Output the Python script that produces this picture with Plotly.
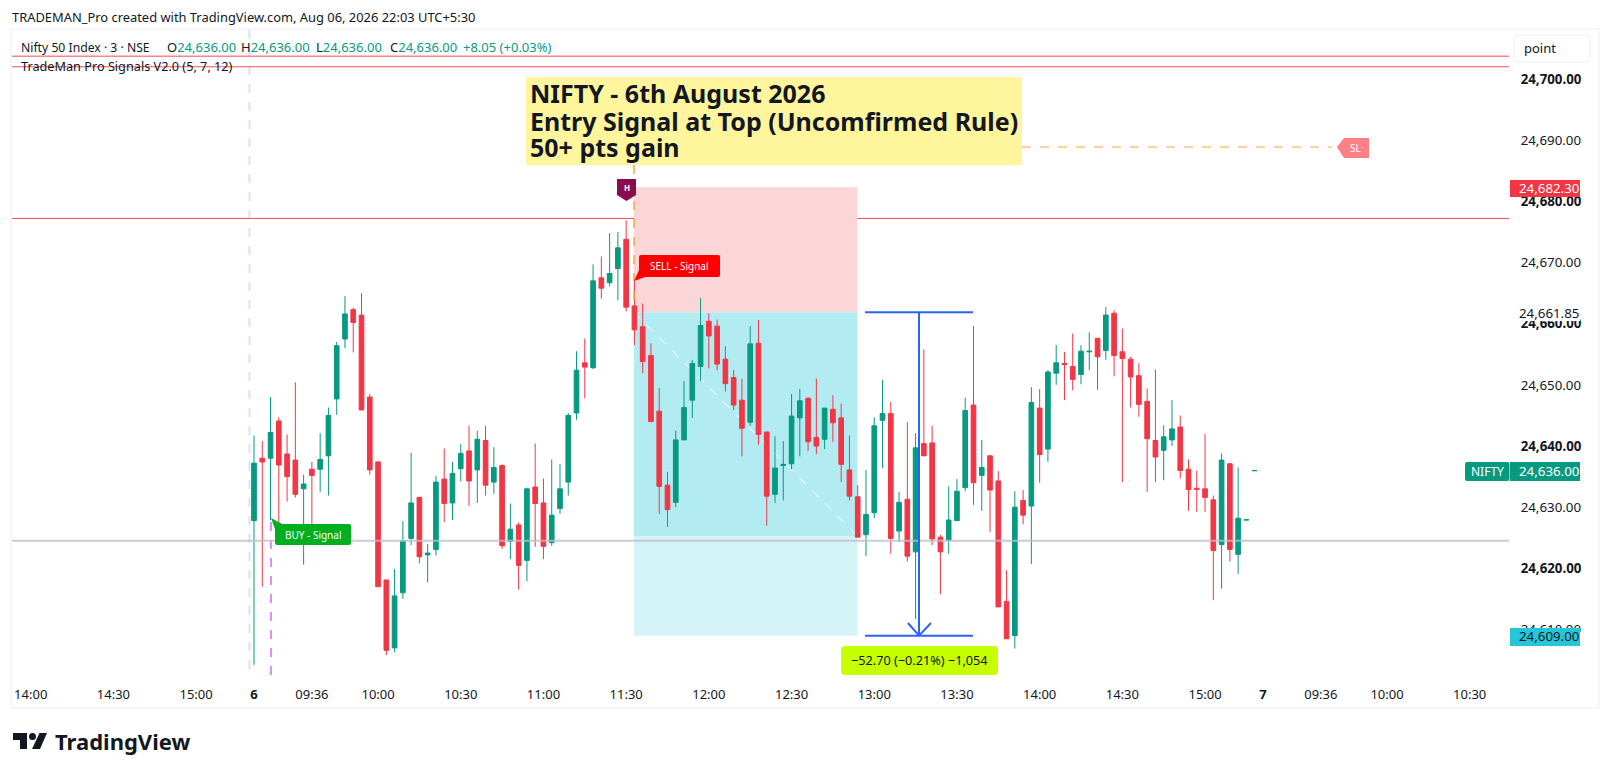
#!/usr/bin/env python3
"""NIFTY 3 minute chart with the short position drawn on top, TradingView style."""

import plotly.graph_objects as go

# --- Data ---

OPEN = [
    24627.8, 24638.0, 24638.0, 24644.1, 24638.7, 24637.7, 24633.0, 24636.2, 24636.2, 24638.4,
    24647.7, 24657.5, 24662.3, 24661.4, 24648.0, 24637.4, 24618.1, 24607.0, 24616.0, 24624.9,
    24631.6, 24622.2, 24623.1, 24634.6, 24630.7, 24636.3, 24639.2, 24636.1, 24640.9, 24634.1,
    24636.8, 24624.4, 24627.1, 24621.3, 24633.3, 24630.7, 24624.2, 24629.8, 24634.1, 24645.4,
    24653.6, 24652.8, 24667.5, 24666.7, 24669.0, 24673.8, 24662.9, 24659.5, 24654.8, 24645.7,
    24633.6, 24630.8, 24641.0, 24647.5, 24653.0, 24660.4, 24659.6, 24654.2, 24651.2, 24647.5,
    24643.9, 24656.8, 24642.3, 24632.1, 24636.8, 24637.1, 24644.6, 24647.8, 24641.4, 24641.1,
    24646.0, 24644.6, 24636.1, 24631.7, 24625.5, 24629.1, 24644.2, 24645.3, 24626.1, 24631.3,
    24622.7, 24640.4, 24640.5, 24625.1, 24624.6, 24627.8, 24633.2, 24646.7, 24635.2, 24638.4,
    24634.3, 24614.6, 24609.0, 24631.1, 24630.2, 24646.2, 24639.5, 24651.9, 24653.5, 24653.0,
    24651.7, 24655.4, 24657.6, 24655.6, 24661.7, 24655.4, 24654.2, 24651.5, 24647.3, 24640.9,
    24639.3, 24641.0, 24643.1, 24636.2, 24633.1, 24633.0, 24631.2, 24623.9, 24637.1, 24622.3,
    24627.9, 24635.95,
]
HIGH = [
    24641.7, 24640.8, 24648.0, 24644.7, 24641.9, 24650.4, 24635.3, 24637.4, 24642.1, 24646.3,
    24657.0, 24664.5, 24662.6, 24665.0, 24648.5, 24637.4, 24618.1, 24619.9, 24627.7, 24638.9,
    24631.6, 24624.0, 24635.1, 24639.6, 24637.4, 24640.3, 24643.3, 24642.5, 24643.3, 24639.8,
    24637.0, 24630.6, 24627.5, 24633.2, 24640.4, 24634.7, 24637.8, 24637.0, 24645.4, 24655.5,
    24657.6, 24669.7, 24671.0, 24674.8, 24675.0, 24676.9, 24666.9, 24663.3, 24656.8, 24649.5,
    24635.8, 24642.5, 24650.6, 24654.1, 24664.2, 24661.7, 24660.7, 24656.3, 24652.4, 24651.0,
    24659.6, 24660.6, 24642.3, 24641.6, 24640.8, 24648.5, 24649.3, 24648.0, 24651.0, 24646.2,
    24648.3, 24646.9, 24641.7, 24633.6, 24636.1, 24644.7, 24650.8, 24647.2, 24632.5, 24643.9,
    24642.1, 24655.8, 24643.3, 24625.5, 24633.4, 24634.6, 24647.9, 24659.6, 24641.0, 24638.4,
    24635.9, 24619.7, 24632.6, 24632.8, 24649.6, 24649.3, 24652.4, 24656.5, 24655.4, 24658.4,
    24656.5, 24658.6, 24657.6, 24662.7, 24662.2, 24659.2, 24654.6, 24653.5, 24649.4, 24652.5,
    24643.4, 24647.5, 24645.0, 24637.8, 24636.0, 24642.0, 24631.9, 24638.8, 24637.2, 24636.5,
    24627.95, 24636.0,
]
LOW = [
    24604.2, 24617.0, 24627.9, 24627.1, 24630.9, 24631.6, 24620.6, 24627.1, 24632.5, 24631.9,
    24645.1, 24656.0, 24655.3, 24645.9, 24635.3, 24617.0, 24605.8, 24606.3, 24615.0, 24623.8,
    24620.8, 24617.7, 24622.1, 24627.6, 24627.9, 24634.2, 24630.2, 24630.7, 24631.9, 24632.2,
    24623.2, 24621.5, 24616.5, 24617.9, 24623.5, 24621.5, 24623.7, 24628.9, 24631.9, 24644.3,
    24647.8, 24652.6, 24664.1, 24666.1, 24663.8, 24662.0, 24656.5, 24651.9, 24643.9, 24628.9,
    24626.8, 24630.0, 24641.0, 24644.6, 24650.6, 24652.7, 24652.4, 24648.9, 24645.9, 24638.3,
    24643.3, 24640.2, 24627.0, 24630.7, 24631.1, 24636.2, 24638.3, 24639.2, 24638.7, 24639.5,
    24640.7, 24634.1, 24631.1, 24625.1, 24622.0, 24628.2, 24636.4, 24622.4, 24624.3, 24621.1,
    24611.7, 24638.4, 24623.8, 24615.8, 24622.4, 24627.8, 24632.6, 24630.4, 24629.4, 24625.9,
    24613.7, 24608.5, 24606.9, 24627.2, 24620.7, 24634.0, 24637.4, 24650.0, 24647.5, 24649.1,
    24650.1, 24652.4, 24649.2, 24654.1, 24651.4, 24634.1, 24646.3, 24644.8, 24632.5, 24634.1,
    24634.4, 24640.0, 24634.7, 24629.4, 24629.2, 24629.2, 24614.8, 24616.7, 24621.1, 24619.1,
    24627.9, 24635.95,
]
CLOSE = [
    24637.2, 24637.4, 24642.2, 24636.9, 24635.0, 24632.1, 24633.8, 24635.2, 24637.8, 24645.0,
    24656.4, 24661.6, 24660.2, 24645.9, 24636.1, 24617.0, 24606.6, 24615.5, 24624.5, 24630.7,
    24621.9, 24622.5, 24634.1, 24630.6, 24635.5, 24638.8, 24634.3, 24641.1, 24633.6, 24636.5,
    24623.7, 24626.4, 24620.5, 24633.0, 24630.6, 24623.6, 24628.7, 24633.0, 24645.0, 24652.4,
    24652.9, 24667.0, 24665.8, 24668.2, 24672.4, 24662.7, 24659.0, 24653.8, 24644.0, 24633.4,
    24629.6, 24641.0, 24646.3, 24653.5, 24659.7, 24658.0, 24653.4, 24650.2, 24646.7, 24642.9,
    24656.7, 24641.9, 24631.8, 24636.4, 24637.0, 24644.9, 24647.4, 24640.7, 24640.0, 24646.2,
    24643.8, 24637.0, 24631.8, 24625.1, 24628.8, 24643.3, 24645.3, 24624.9, 24630.8, 24622.0,
    24639.7, 24638.4, 24624.8, 24622.7, 24627.9, 24632.6, 24645.8, 24634.0, 24636.5, 24632.8,
    24613.7, 24608.5, 24630.0, 24628.7, 24647.1, 24638.6, 24652.1, 24653.6, 24653.3, 24650.9,
    24655.5, 24655.5, 24654.6, 24661.4, 24654.8, 24654.3, 24651.3, 24646.8, 24641.2, 24638.2,
    24641.5, 24642.8, 24636.0, 24632.9, 24632.9, 24631.6, 24622.9, 24637.7, 24623.1, 24628.2,
    24627.95, 24636.0,
]

X_TICKVALS = [-27, -17, -7, 0, 7, 15, 25, 35, 45, 55, 65, 75, 85, 95, 105, 115, 122, 129, 137, 147]
X_TICKTEXT = ["14:00", "14:30", "15:00", "<b>6</b>", "09:36", "10:00", "10:30", "11:00", "11:30",
              "12:00", "12:30", "13:00", "13:30", "14:00", "14:30", "15:00", "<b>7</b>", "09:36",
              "10:00", "10:30"]
Y_TICKVALS = [24700, 24690, 24680, 24670, 24660, 24650, 24640, 24630, 24620, 24610]
Y_TICKTEXT = ["<b>24,700.00</b>", "24,690.00", "<b>24,680.00</b>", "24,670.00", "<b>24,660.00</b>",
              "24,650.00", "<b>24,640.00</b>", "24,630.00", "<b>24,620.00</b>", "24,610.00"]

STOP = 24682.30
ENTRY = 24661.85
TARGET = 24609.00
LAST = 24636.00
BOX_MID = 24625.3
RED_LEVELS = [24702.0, 24677.2]
PINK_LEVEL = 24703.7
GRAY_LEVEL = 24624.5

# --- Layout numbers ---

WIDTH, HEIGHT = 1600, 775
LEFT, RIGHT, TOP, BOTTOM = 12, 1509, 30, 680
GREEN = "#089981"
RED = "#f23645"
TEXT = "#131722"
FONT = "Noto Sans"
BAR_PX = 8.27
FIRST_BAR_PX = 254
PX_PER_POINT = 6.117
TOP_PRICE_PX = 79


def xd(px):
    return (px - FIRST_BAR_PX) / BAR_PX


def yd(py):
    return 24700 - (py - TOP_PRICE_PX) / PX_PER_POINT


def xp(px):
    return (px - LEFT) / (RIGHT - LEFT)


def yp(py):
    return (BOTTOM - py) / (BOTTOM - TOP)


def page_path(points):
    return "M" + " L".join(f"{xp(x)},{yp(y)}" for x, y in points) + " Z"


def rounded(x0, y0, x1, y1, r=2):
    a, b = r / (RIGHT - LEFT), r / (BOTTOM - TOP)
    l, u, ri, lo = xp(x0), yp(y0), xp(x1), yp(y1)
    return (f"M{l + a},{u} L{ri - a},{u} Q{ri},{u} {ri},{u - b} L{ri},{lo + b} Q{ri},{lo} {ri - a},{lo} "
            f"L{l + a},{lo} Q{l},{lo} {l},{lo + b} L{l},{u - b} Q{l},{u} {l + a},{u} Z")


fig = go.Figure(go.Candlestick(
    x=list(range(len(OPEN))),
    open=OPEN,
    high=HIGH,
    low=LOW,
    close=CLOSE,
    increasing=dict(line=dict(color=GREEN, width=1), fillcolor=GREEN),
    decreasing=dict(line=dict(color=RED, width=1), fillcolor=RED),
    whiskerwidth=0,
    showlegend=False,
))

shapes = []
annotations = []


def data_rect(x0, x1, y0, y1, color, layer="below"):
    shapes.append(dict(type="rect", xref="x", yref="y", x0=x0, x1=x1, y0=y0, y1=y1,
                       fillcolor=color, line_width=0, layer=layer))


def data_line(x0, y0, x1, y1, color, width=1, dash="solid", layer="below"):
    shapes.append(dict(type="line", xref="x", yref="y", x0=x0, y0=y0, x1=x1, y1=y1,
                       line=dict(color=color, width=width, dash=dash), layer=layer))


def page_shape(path, color, line=None):
    shapes.append(dict(type="path", xref="paper", yref="paper", path=path, fillcolor=color,
                       line=dict(color=line or color, width=1 if line else 0), layer="above"))


def text_at(px, py, text, size=13, color=TEXT, anchor="left", font=FONT):
    annotations.append(dict(xref="paper", yref="paper", x=xp(px), y=yp(py), text=text, showarrow=False,
                            xanchor=anchor, yanchor="middle", align=anchor, borderpad=0,
                            font=dict(family=font, size=size, color=color)))


# frame round the chart
shapes.append(dict(type="rect", xref="paper", yref="paper", x0=xp(11), x1=xp(1599), y0=yp(708), y1=yp(29),
                   line=dict(color="#eceef2", width=1), fillcolor="rgba(0,0,0,0)", layer="below"))

# session breaks, signal line
data_line(xd(249.5), yd(TOP), xd(249.5), yd(677), "#d6e3fb", 2, "dash")
data_line(xd(271), yd(522), xd(271), yd(677), "#e58cfb", 2, "dash")

# horizontal levels
data_line(xd(LEFT), PINK_LEVEL, xd(RIGHT), PINK_LEVEL, "#f7858e", 1.5)
for level in RED_LEVELS:
    data_line(xd(LEFT), level, xd(RIGHT), level, "#f2505c", 1)

# short position
box_l, box_r = xd(634), xd(857.5)
data_rect(box_l, box_r, ENTRY, STOP, "#fbd6d9")
data_rect(box_l, box_r, BOX_MID, ENTRY, "#b2ebf2")
data_rect(box_l, box_r, TARGET, BOX_MID, "#d4f4f7")
data_line(box_l, ENTRY, box_r, BOX_MID, "#ffffff", 1, "dash")

# gray line goes over the candles
data_line(xd(LEFT), GRAY_LEVEL, xd(RIGHT), GRAY_LEVEL, "rgba(190,190,200,0.8)", 2, layer="above")

# price range tool
data_line(xd(865), ENTRY, xd(973), ENTRY, "#2962ff", 2, layer="above")
data_line(xd(865), TARGET, xd(973), TARGET, "#2962ff", 2, layer="above")
data_line(xd(919), ENTRY, xd(919), TARGET, "#2962ff", 2, layer="above")
data_line(xd(908), yd(623), xd(919), TARGET, "#2962ff", 2, layer="above")
data_line(xd(931), yd(623), xd(919), TARGET, "#2962ff", 2, layer="above")
page_shape(rounded(841, 646, 998, 675, 4), "#c6ff00")
text_at(919.5, 659.5, "−52.70 (−0.21%) −1,054", 12.7, TEXT, "center")

# note box, dashed leaders
data_line(xd(634), yd(165), xd(634), yd(300), "#f7a53c", 1.5, "dash", "above")
data_line(xd(1022), yd(147), xd(1332), yd(147), "#f7a53c", 1, "dash", "above")
page_shape(page_path([(526, 77), (1022, 77), (1022, 165), (526, 165)]), "#fff59d")
for py, line in zip([93, 121, 147], ["NIFTY - 6th August 2026", "Entry Signal at Top (Uncomfirmed Rule)", "50+ pts gain"]):
    text_at(529, py, f"<b>{line}</b>", 25, TEXT, font="Noto Sans")

# SL tag
page_shape(page_path([(1337, 147), (1344, 138), (1369, 138), (1369, 158), (1344, 158)]), "#fe8087")
text_at(1355, 147.5, "SL", 10, "#ffffff", "center")

# H marker
page_shape(page_path([(617, 179), (636, 179), (636, 195), (626.5, 201), (617, 195)]), "#880e4f")
text_at(626.5, 187, "<b>H</b>", 8, "#ffffff", "center")

# signal labels
page_shape(rounded(639, 255, 720, 277, 2), "#ff0000")
page_shape(page_path([(634, 281), (640, 268), (648, 276)]), "#ff0000")
text_at(679.5, 266, "SELL - Signal", 10, "#ffffff", "center")
page_shape(rounded(275, 524, 351, 545, 2), "#00ae1f")
page_shape(page_path([(271, 518), (284, 525), (276, 532)]), "#00ae1f")
text_at(313, 534.5, "BUY - Signal", 10, "#ffffff", "center")

# price axis tags
page_shape(page_path([(1510, 180), (1580, 180), (1580, 197), (1510, 197)]), RED)
text_at(1518.5, 188, "24,682.30", 13.3, "#ffffff")
page_shape(page_path([(1510, 304), (1580, 304), (1580, 321), (1510, 321)]), "#ffffff")
text_at(1518.5, 313, "24,661.85", 13.3, TEXT)
page_shape(rounded(1465, 462, 1509.5, 481, 2), GREEN)
text_at(1487, 471, "NIFTY", 12, "#ffffff", "center")
page_shape(page_path([(1510, 462), (1580, 462), (1580, 481), (1510, 481)]), GREEN)
text_at(1518.5, 471, "24,636.00", 13.3, "#ffffff")
page_shape(page_path([(1510, 628), (1580, 628), (1580, 646), (1510, 646)]), "#26c6da")
text_at(1518.5, 636, "24,609.00", 13.3, TEXT)

# scale mode button
page_shape(rounded(1514, 35, 1590, 62, 4), "#ffffff", "#eceef2")
text_at(1523, 47.5, "point", 13)

# header and legend
text_at(11, 17, "TRADEMAN_Pro created with TradingView.com, Aug 06, 2026 22:03 UTC+5:30", 12.9)
text_at(20, 47, "Nifty 50 Index · 3 · NSE", 12.2)
for px, tag in zip([166, 240, 315, 389], "OHLC"):
    text_at(px, 47, f"{tag}<span style='color:{GREEN}'>24,636.00</span>", 13)
text_at(462, 47, "+8.05 (+0.03%)", 13, GREEN)
text_at(20, 66, "TradeMan Pro Signals V2.0 (5, 7, 12)", 12.7)

# footer logo
page_shape(page_path([(13, 733), (27, 733), (27, 749), (20, 749), (20, 740), (13, 740)]), "#131722")
shapes.append(dict(type="circle", xref="paper", yref="paper", x0=xp(29), x1=xp(36), y0=yp(740), y1=yp(733),
                   fillcolor="#131722", line_width=0, layer="above"))
page_shape(page_path([(39.5, 733), (47, 733), (40, 749), (32, 749)]), "#131722")
text_at(54, 741, "<b>TradingView</b>", 22, "#131722")

fig.update_layout(
    width=WIDTH,
    height=HEIGHT,
    margin=dict(l=LEFT, r=WIDTH - RIGHT, t=TOP, b=HEIGHT - BOTTOM, pad=0),
    paper_bgcolor="#ffffff",
    plot_bgcolor="#ffffff",
    font=dict(family=FONT, size=13, color=TEXT),
    boxgap=0.2,
    shapes=shapes,
    annotations=annotations,
    xaxis=dict(
        range=[xd(LEFT), xd(RIGHT)],
        rangeslider=dict(visible=False),
        tickmode="array",
        tickvals=X_TICKVALS,
        ticktext=X_TICKTEXT,
        showgrid=False,
        zeroline=False,
        showline=False,
        ticks="outside",
        ticklen=2,
        tickcolor="rgba(0,0,0,0)",
        tickfont=dict(size=13, color=TEXT),
    ),
    yaxis=dict(
        range=[yd(BOTTOM), yd(TOP)],
        side="right",
        tickmode="array",
        tickvals=Y_TICKVALS,
        ticktext=Y_TICKTEXT,
        showgrid=False,
        zeroline=False,
        showline=False,
        ticks="outside",
        ticklen=8,
        tickcolor="rgba(0,0,0,0)",
        tickfont=dict(size=13.3, color=TEXT),
    ),
)

fig.write_html("out.html", config=dict(displayModeBar=False),
               post_script="document.body.style.margin='0';")
